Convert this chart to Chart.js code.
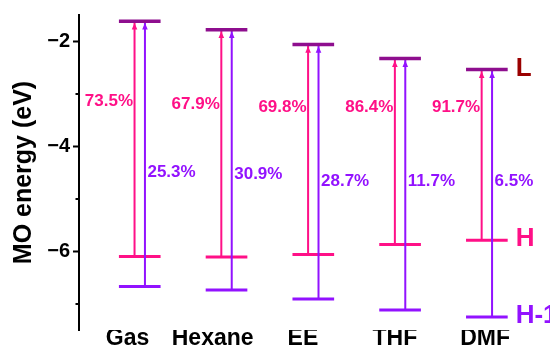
<!DOCTYPE html>
<html>
<head>
<meta charset="utf-8">
<script src="https://cdn.jsdelivr.net/npm/chart.js@4.4.1/dist/chart.umd.min.js"></script>
<style>
  html, body { margin: 0; padding: 0; background: #fff; }
  canvas { display: block; }
</style>
</head>
<body>
<canvas id="mo" width="550" height="351"></canvas>
<script>
// Frontier orbital energies (eV) per environment
const solvents = ['Gas', 'Hexane', 'EE', 'THF', 'DMF'];
const lumoEnergy = [-1.62, -1.78, -2.06, -2.33, -2.54];
const homoEnergy = [-6.10, -6.11, -6.06, -5.87, -5.79];
const homo1Energy = [-6.67, -6.74, -6.91, -7.12, -7.25];
// Transition contributions (%)
const homoContribution = [73.5, 67.9, 69.8, 86.4, 91.7];
const homo1Contribution = [25.3, 30.9, 28.7, 11.7, 6.5];
// Axis ticks
const energyTicks = [-6, -4, -2];
const minorEnergyTicks = [-7, -5, -3];
const levelNames = ['L', 'H', 'H-1'];

const FONT = "'Liberation Sans', Arial, Helvetica, sans-serif";
const COL_L = '#8E0E8E';
const COL_H = '#FF1087';
const COL_H1 = '#9212FF';
const COL_LTXT = '#9A0000';
const HALF = 0.24;        // half width of a level bar (x units)
const ARROW_DX = 0.06;    // arrow offset from level centre (x units)
const labelNudge = [-0.14, -0.16, -0.12, -0.06, -0.02];

function levelSegments(values) {
  const pts = [];
  values.forEach((v, i) => {
    const c = i + 1;
    pts.push({ x: c - HALF, y: v }, { x: c + HALF, y: v }, { x: c + 0.5, y: null });
  });
  return pts;
}
function shaftSegments(from, to, dx) {
  const pts = [];
  from.forEach((v, i) => {
    const c = i + 1 + dx;
    pts.push({ x: c, y: v }, { x: c, y: to[i] }, { x: c + 0.3, y: null });
  });
  return pts;
}
function lineSet(data, color, width, order) {
  return {
    data, borderColor: color, backgroundColor: color, borderWidth: width,
    pointRadius: 0, spanGaps: false, tension: 0, order, borderCapStyle: 'butt'
  };
}

const annotate = {
  id: 'annotate',
  afterDatasetsDraw(chart, args, opts) {
    const { ctx, scales: { x, y } } = chart;
    ctx.save();
    // minor ticks on the energy axis
    ctx.strokeStyle = '#000';
    ctx.lineWidth = 2;
    minorEnergyTicks.forEach(v => {
      const py = Math.round(y.getPixelForValue(v));
      ctx.beginPath();
      ctx.moveTo(y.right - 3.5, py);
      ctx.lineTo(y.right, py);
      ctx.stroke();
    });
    // arrow heads just under each LUMO bar
    const head = (px, py, color) => {
      ctx.fillStyle = color;
      ctx.beginPath();
      ctx.moveTo(px, py);
      ctx.lineTo(px - 2.8, py + 6.5);
      ctx.lineTo(px + 2.8, py + 6.5);
      ctx.closePath();
      ctx.fill();
    };
    lumoEnergy.forEach((v, i) => {
      const tip = y.getPixelForValue(v) + 1.8;
      head(x.getPixelForValue(i + 1 - ARROW_DX), tip, COL_H);
      head(x.getPixelForValue(i + 1 + ARROW_DX), tip, COL_H1);
    });
    // contribution labels
    ctx.font = `bold 17px ${FONT}`;
    ctx.textBaseline = 'middle';
    homoContribution.forEach((p, i) => {
      ctx.fillStyle = COL_H;
      ctx.textAlign = 'right';
      ctx.fillText(p.toFixed(1) + '%', x.getPixelForValue(i + 1 - ARROW_DX) - 1.5, y.getPixelForValue(opts.homoLabelY[i]));
    });
    homo1Contribution.forEach((p, i) => {
      ctx.fillStyle = COL_H1;
      ctx.textAlign = 'left';
      ctx.fillText(p.toFixed(1) + '%', x.getPixelForValue(i + 1 + ARROW_DX) + 2.5, y.getPixelForValue(opts.homo1LabelY[i]));
    });
    // level names beside the last column
    const last = solvents.length - 1;
    const lx = x.getPixelForValue(last + 1 + HALF) + 8;
    ctx.font = `bold 26px ${FONT}`;
    ctx.textAlign = 'left';
    [[lumoEnergy, COL_LTXT], [homoEnergy, COL_H], [homo1Energy, COL_H1]].forEach(([arr, col], k) => {
      ctx.fillStyle = col;
      ctx.fillText(levelNames[k], lx, y.getPixelForValue(arr[last]) - 1);
    });
    ctx.restore();
  }
};

new Chart(document.getElementById('mo'), {
  type: 'line',
  data: {
    datasets: [
      lineSet(levelSegments(lumoEnergy), COL_L, 3.5, 0),
      lineSet(shaftSegments(homo1Energy, lumoEnergy, ARROW_DX), COL_H1, 2, 1),
      lineSet(levelSegments(homoEnergy), COL_H, 3, 2),
      lineSet(shaftSegments(homoEnergy, lumoEnergy, -ARROW_DX), COL_H, 2, 3),
      lineSet(levelSegments(homo1Energy), COL_H1, 3, 4)
    ]
  },
  options: {
    responsive: false,
    devicePixelRatio: 1,
    animation: false,
    layout: { padding: { left: 0, right: 5, top: 13, bottom: 0 } },
    plugins: {
      legend: { display: false },
      tooltip: { enabled: false },
      annotate: {
        homoLabelY: [-3.15, -3.2, -3.26, -3.26, -3.26],
        homo1LabelY: [-4.5, -4.54, -4.66, -4.66, -4.66]
      }
    },
    scales: {
      x: {
        type: 'linear', min: 0.3, max: 5.67,
        grid: { display: false, drawTicks: false },
        border: { display: false },
        afterBuildTicks: s => { s.ticks = solvents.map((_, i) => ({ value: i + 1 + labelNudge[i] })); },
        afterFit: s => { s.height = 21; },
        ticks: {
          autoSkip: false, maxRotation: 0, minRotation: 0, padding: -3, color: '#000',
          font: { family: FONT, size: 23, weight: 'bold', lineHeight: 1 },
          callback: (v, i) => solvents[i]
        }
      },
      y: {
        type: 'linear', min: -7.5, max: -1.5,
        afterBuildTicks: s => { s.ticks = energyTicks.map(v => ({ value: v })); },
        afterFit: s => { s.width = 79; },
        grid: { drawOnChartArea: false, drawTicks: true, tickLength: 6, tickWidth: 2, tickColor: '#000' },
        border: { display: true, color: '#000', width: 2 },
        ticks: {
          padding: 3, color: '#000',
          font: { family: FONT, size: 20, weight: 'bold' },
          callback: v => String(v).replace('-', '\u2212')
        },
        title: {
          display: true, text: 'MO energy (eV)', color: '#000',
          font: { family: FONT, size: 25, weight: 'bold', lineHeight: 1.2 },
          padding: { top: 9, bottom: 0 }
        }
      }
    }
  },
  plugins: [annotate]
});
</script>
</body>
</html>
